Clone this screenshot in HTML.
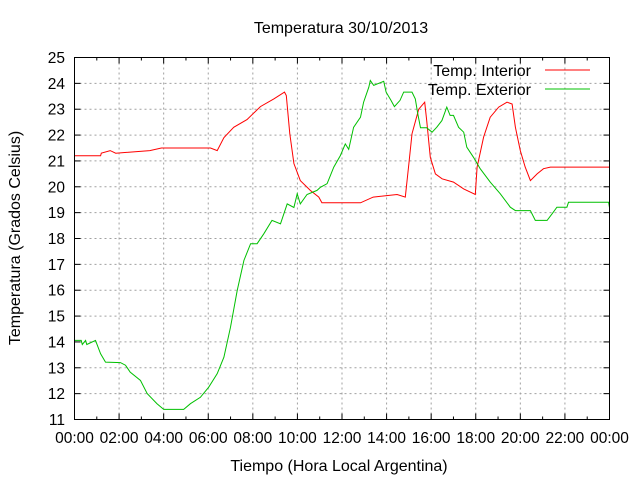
<!DOCTYPE html>
<html><head><meta charset="utf-8"><style>
body{margin:0;background:#fff}
svg{display:block;font-family:"Liberation Sans",sans-serif}
</style></head><body>
<svg id="chart" width="640" height="480" viewBox="0 0 640 480" xmlns="http://www.w3.org/2000/svg">
<rect width="640" height="480" fill="#fff"/>
<text x="341" y="33" font-size="16" text-anchor="middle">Temperatura 30/10/2013</text>
<text x="339" y="471" font-size="16" text-anchor="middle">Tiempo (Hora Local Argentina)</text>
<text transform="translate(20,238) rotate(-90)" font-size="16" text-anchor="middle">Temperatura (Grados Celsius)</text>
<g id="grid"></g><g id="axes"></g><g id="series"></g>
<g>
<text x="531" y="76" font-size="16" text-anchor="end">Temp. Interior</text>
<line x1="545" y1="70" x2="590" y2="70" stroke="#ff0000" stroke-width="1"/>
<text x="531" y="95" font-size="16" text-anchor="end">Temp. Exterior</text>
<line x1="545" y1="89" x2="590" y2="89" stroke="#00c000" stroke-width="1"/>
</g>
<rect x="74.5" y="57.5" width="535" height="362" fill="none" stroke="#000" stroke-width="1"/>
</svg>
<script>
const yTicks=[11,12,13,14,15,16,17,18,19,20,21,22,23,24,25];
const xTickLabels=["00:00","02:00","04:00","06:00","08:00","10:00","12:00","14:00","16:00","18:00","20:00","22:00","00:00"];
const interiorHours=[0,1.17,1.2,1.6,1.85,3.38,3.9,6.1,6.4,6.7,7.14,7.74,8.34,8.94,9.42,9.5,9.66,9.84,10.13,10.58,10.96,11.1,12.83,13.4,14.47,14.84,15.0,15.14,15.44,15.71,15.8,15.96,16.19,16.49,17.0,17.46,17.98,18.06,18.35,18.65,19.03,19.4,19.63,19.78,20.0,20.22,20.45,20.75,21.04,21.35,24];
const interiorTemps=[21.2,21.2,21.3,21.4,21.3,21.4,21.5,21.5,21.4,21.9,22.3,22.6,23.1,23.4,23.66,23.53,22.05,20.9,20.24,19.86,19.6,19.38,19.38,19.6,19.7,19.6,20.9,22.05,23.0,23.27,22.56,21.14,20.5,20.31,20.18,19.92,19.7,20.76,21.92,22.69,23.08,23.27,23.2,22.3,21.4,20.76,20.24,20.5,20.7,20.76,20.76];
const exteriorHours=[0,0.3,0.35,0.5,0.55,0.94,1.17,1.39,2.06,2.29,2.5,2.96,3.26,3.7,4.0,4.9,5.2,5.65,6.02,6.4,6.7,7.0,7.3,7.6,7.9,8.19,8.49,8.86,9.24,9.54,9.84,9.99,10.13,10.43,10.88,11.03,11.33,11.63,11.93,12.15,12.3,12.52,12.83,12.97,13.2,13.27,13.42,13.87,13.98,14.2,14.35,14.6,14.77,15.14,15.29,15.4,15.52,15.8,16.04,16.25,16.48,16.7,16.85,17.0,17.23,17.46,17.6,17.9,18.2,18.65,19.1,19.55,19.78,20.45,20.67,21.2,21.42,21.64,22.09,22.16,23.96,24];
const exteriorTemps=[14.06,14.06,13.9,14.06,13.9,14.06,13.54,13.22,13.2,13.1,12.83,12.51,12.0,11.61,11.39,11.39,11.61,11.86,12.25,12.77,13.41,14.57,15.99,17.15,17.8,17.8,18.18,18.7,18.57,19.34,19.2,19.73,19.34,19.7,19.86,19.98,20.12,20.76,21.21,21.66,21.45,22.3,22.69,23.27,23.85,24.11,23.92,24.08,23.66,23.34,23.1,23.34,23.66,23.66,23.4,22.82,22.28,22.28,22.11,22.3,22.56,23.08,22.76,22.76,22.3,22.11,21.53,21.14,20.7,20.18,19.73,19.21,19.08,19.08,18.7,18.7,18.95,19.21,19.21,19.4,19.4,19.2];
const NS="http://www.w3.org/2000/svg";
const X0=74.5,X1=609.5,Y0=419.5,Y1=57.5;
function xs(h){return X0+(X1-X0)*h/24;}
function ys(v){return Y0-(Y0-Y1)*(v-11)/14;}
function mk(tag,attrs,parent){const e=document.createElementNS(NS,tag);for(const k in attrs)e.setAttribute(k,attrs[k]);parent.appendChild(e);return e;}
const grid=document.getElementById('grid'),axes=document.getElementById('axes'),series=document.getElementById('series');
yTicks.forEach((v,i)=>{
 const y=ys(v);
 if(i>0&&i<yTicks.length-1){const g=mk('line',{x1:X0,x2:X1,y1:y,y2:y,stroke:'#a0a0a0','stroke-dasharray':'2,3'},grid);
 
 }
 mk('line',{x1:X0,x2:X0+6,y1:y,y2:y,stroke:'#000'},axes);
 mk('line',{x1:X1-6,x2:X1,y1:y,y2:y,stroke:'#000'},axes);
 const t=mk('text',{x:65,y:y+5.5,'font-size':15.5,'text-anchor':'end'},axes);
 t.textContent=v;
 
 
});
xTickLabels.forEach((lab,i)=>{
 const h=i*2,x=xs(h);
 if(i>0&&i<xTickLabels.length-1){const g=mk('line',{x1:x,x2:x,y1:Y0,y2:Y1,stroke:'#a0a0a0','stroke-dasharray':'2,3'},grid);
 
 }
 mk('line',{x1:x,x2:x,y1:Y0,y2:Y0-6,stroke:'#000'},axes);
 mk('line',{x1:x,x2:x,y1:Y1,y2:Y1+6,stroke:'#000'},axes);
 if(i<xTickLabels.length-1){const xm=xs(h+1);
 mk('line',{x1:xm,x2:xm,y1:Y0,y2:Y0-3,stroke:'#000'},axes);
 mk('line',{x1:xm,x2:xm,y1:Y1,y2:Y1+3,stroke:'#000'},axes);}
 const t=mk('text',{x:x,y:443,'font-size':15.5,'text-anchor':'middle'},axes);
 t.textContent=lab;
 
 
});
function line(hs,vs,color,name){
 const pts=hs.map((h,i)=>xs(h).toFixed(1)+','+ys(vs[i]).toFixed(1)).join(' ');
 const p=mk('polyline',{points:pts,fill:'none',stroke:color,'stroke-width':1},series);
 
 
}
line(interiorHours,interiorTemps,'#ff0000','interior-temp-line');
line(exteriorHours,exteriorTemps,'#00c000','exterior-temp-line');
</script>
</body></html>
